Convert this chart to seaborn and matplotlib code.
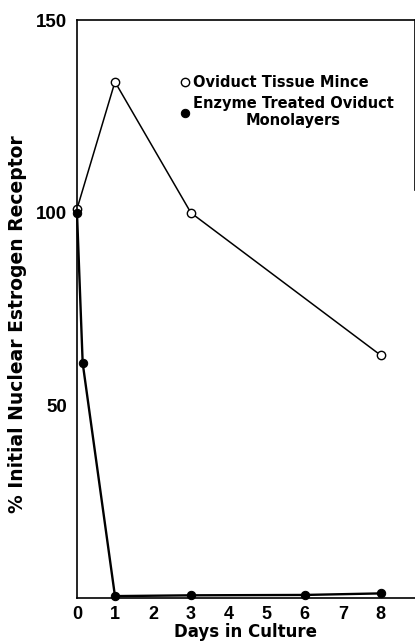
import matplotlib
matplotlib.use('Agg')
import matplotlib.pyplot as plt
import seaborn as sns

# values
mince_days = [0, 1, 3, 8]
mince_pct = [101, 134, 100, 63]

mono_days = [0, 0.15, 1, 3, 6, 8]
mono_pct = [100, 61, 0.5, 0.7, 0.8, 1.2]

mince_label = 'Oviduct Tissue Mince'
mono_label = 'Enzyme Treated Oviduct\nMonolayers'

sns.set_style('white')
plt.rcParams['font.family'] = ['Liberation Sans', 'DejaVu Sans']
plt.rcParams['font.weight'] = 'bold'
plt.rcParams['text.color'] = 'black'
plt.rcParams['axes.labelcolor'] = 'black'

fig = plt.figure(figsize=(4.15, 6.42), dpi=100)
ax = fig.add_axes([0.1855, 0.0685, 0.8145, 0.9])

sns.lineplot(x=mince_days, y=mince_pct, ax=ax, color='black', linewidth=1.1,
             marker='o', markersize=6, markerfacecolor='white',
             markeredgecolor='black', markeredgewidth=1.0, label=mince_label,
             clip_on=False)
sns.lineplot(x=mono_days, y=mono_pct, ax=ax, color='black', linewidth=1.7,
             marker='o', markersize=6, markerfacecolor='black',
             markeredgecolor='black', label=mono_label, clip_on=False)

ax.set_xlim(0, 8.9)
ax.set_ylim(0, 150)
ax.set_xticks(range(0, 9))
ax.set_yticks([50, 100, 150])
ax.set_yticks(range(10, 150, 10), minor=True)
ax.tick_params(axis='both', which='both', direction='in', length=7, width=1.0,
               colors='black', pad=5)
ax.tick_params(axis='y', labelsize=13.5, pad=7)
ax.tick_params(axis='x', labelsize=13, pad=6)

for side in ['left', 'bottom', 'top', 'right']:
    ax.spines[side].set_color('black')
    ax.spines[side].set_linewidth(1.2)
ax.spines['right'].set_bounds(106, 150)

ax.set_xlabel('Days in Culture', fontsize=12, fontweight='bold',
              family='DejaVu Sans', labelpad=0)
ax.set_ylabel('% Initial Nuclear Estrogen Receptor', fontsize=13.5,
              fontweight='bold', family='DejaVu Sans')
ax.yaxis.set_label_coords(-0.148, 0.474)

leg = ax.legend(loc='upper left', bbox_to_anchor=(0.29, 0.917), frameon=False,
                handlelength=0.4, handletextpad=0.3, borderpad=0,
                labelspacing=0.35,
                prop={'family': 'DejaVu Sans', 'size': 10.5, 'weight': 'bold'})
for line in leg.get_lines():
    line.set_linewidth(0)
for t in leg.get_texts():
    t.set_multialignment('center')
    t.set_color('black')

fig.savefig('out.png', dpi=100)
